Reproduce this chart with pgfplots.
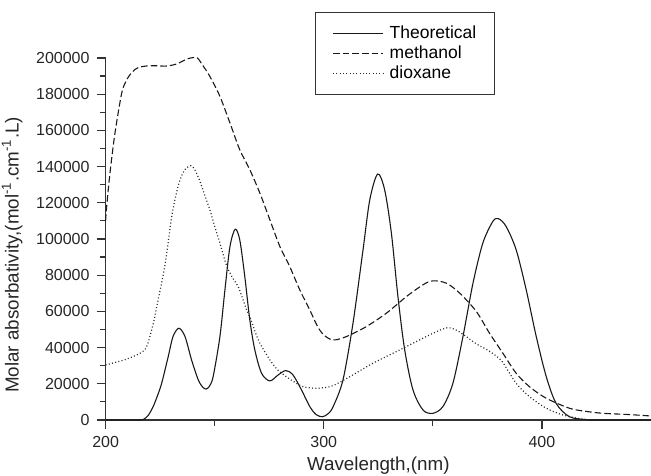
\documentclass[border=0pt]{standalone}
\usepackage{pgfplots}
\pgfplotsset{compat=1.18}
\usepackage{fontspec}
\setmainfont{Liberation Sans}
\begin{document}
\begin{tikzpicture}
\useasboundingbox (-52.8pt,-27.5pt) rectangle (272.7pt,210pt);
\begin{axis}[
  at={(0,0)}, anchor=south west,
  scale only axis, width=272.7pt, height=181pt,
  xmin=200, xmax=450, ymin=0, ymax=200000,
  clip=false, scaled y ticks=false, scaled x ticks=false,
  axis x line*=bottom, axis y line*=left,
  axis line style={line width=0.7pt, black!80},
  tick align=outside,
  major tick length=4.5pt, minor tick length=2.8pt,
  tick style={line width=0.6pt, black!80},
  xtick={200,300,400}, xticklabels={200,300,400},
  minor xtick={250,350},
  ytick={0,20000,40000,60000,80000,100000,120000,140000,160000,180000,200000},
  yticklabels={0,20000,40000,60000,80000,100000,120000,140000,160000,180000,200000},
  minor ytick={10000,30000,50000,70000,90000,110000,130000,150000,170000,190000},
  ticklabel style={font=\fontsize{8}{9.6}\selectfont, text=black!85},
  xlabel={Wavelength,(nm)},
  ylabel={Molar absorbativity,(mol\textsuperscript{-1}.cm\textsuperscript{-1}.L)},
  label style={font=\fontsize{9.4}{11}\selectfont, text=black!85},
  xlabel style={yshift=2pt},
  ylabel style={at={(ticklabel cs:0.456)}},
  legend style={at={(0.384,1.127)}, anchor=north west, draw=black!80, line width=0.5pt,
    font=\fontsize{8.75}{10}\selectfont, inner xsep=8.5pt, inner ysep=5.5pt,
    nodes={inner sep=0.5pt, text height=7pt, text depth=2pt}, column sep=2.5pt, row sep=0pt},
  legend cell align=left,
  legend image code/.code={\draw[#1] (0pt,0pt) -- (25pt,0pt);},
]
\addplot[smooth, line width=0.55pt, black!90] coordinates {
(200,0) (210,0) (215,0) (217.3,300) (219.5,2500) (221.8,7400) (223.8,13500) (225.7,20300)
(228.7,35000) (230.9,46100) (233.6,50700) (236.4,46100) (239.4,33200) (242.5,22100)
(244.5,18200) (246.0,17100) (247.5,18500) (249.3,24000) (252.4,46100) (254.7,71900)
(257.0,95800) (259.4,105400) (261.5,99500) (263.8,79300) (266.1,55300) (268.4,38700)
(271.5,25800) (275.3,21600) (279.1,24900) (282.6,27300) (285.9,24900) (289.8,16600)
(293.6,7400) (296.5,3000) (299.4,1800) (302,3500) (304.3,7400) (308.8,22100) (313.4,53500)
(318.0,94000) (321.1,121700) (324.7,135900) (327.9,127200) (331.0,103200) (334.0,68200)
(337.1,38700) (340.9,16600) (345.5,5500) (350.0,3700) (354.6,7400) (359.2,20300)
(363.8,46100) (368.4,75600) (372.9,97700) (377.5,109700) (380.1,111200) (383.6,106900)
(388.2,94000) (392.8,71900) (397.4,46100) (402.0,23900) (406.5,9200) (412.6,1800)
(420.3,200) (425,0) (450,0)
};
\addlegendentry{Theoretical}
\addplot[smooth, line width=0.55pt, black!90, dash pattern=on 3.3pt off 1.5pt] coordinates {
(200,110000) (200.5,118000) (202,136400) (204.3,158500) (207.4,180700) (209.5,187500)
(211.2,190800) (213.5,193700) (215.8,195000) (219,195600) (223.4,195700) (227,195500)
(229.5,195800) (232,196500) (234.1,197500) (236.5,199000) (239,200000) (242,200000)
(244.5,196000) (247.8,189800) (252.4,178800) (257.0,164100) (261.5,149300) (266.1,138300)
(270.7,125400) (275.3,110600) (279.9,95800) (284.4,84800) (289.0,71900) (293.6,60800)
(297,52000) (300,47000) (304.3,44200) (310.4,46100) (319.5,51600) (328.7,59000)
(337.9,68200) (345.5,74700) (350,76900) (356.2,75600) (362.3,70100) (369.9,60000)
(376.0,47900) (382.1,36900) (388.2,25800) (394.3,18400) (402.0,12000) (412.6,6500)
(420,4800) (427.9,3700) (440,3000) (450,2200)
};
\addlegendentry{methanol}
\addplot[smooth, line width=0.6pt, black!85, dash pattern=on 0.5pt off 1.15pt] coordinates {
(200,30400) (205,32000) (210,33800) (215.8,36900) (218.8,40500) (221.8,53000) (224,66000)
(226.4,80000) (228,92000) (230.3,112400) (232.2,124000) (234.1,132700) (236.5,138500)
(239.1,140500) (241,138000) (243.2,132000) (245.5,124000) (247.8,116100) (250,107000)
(252.4,97700) (255.4,85500) (258,79000) (261,73000) (264.6,61000) (266.1,57100)
(269.2,46500) (270.7,42400) (275.3,33200) (279,27500) (282.9,23900) (286.5,21000)
(290.5,18400) (296.7,17500) (302.7,18400) (306,20000) (311.9,23900) (322.6,31400)
(334.8,38700) (347,46100) (352,49000) (356.9,51000) (361,49500) (365.3,46100) (370,42000)
(375,38700) (380,34500) (382.5,31000) (388.2,20300) (394.3,12900) (402,6500) (409.6,2800)
(418.7,500) (425,0)
};
\addlegendentry{dioxane}
\end{axis}
\end{tikzpicture}
\end{document}
